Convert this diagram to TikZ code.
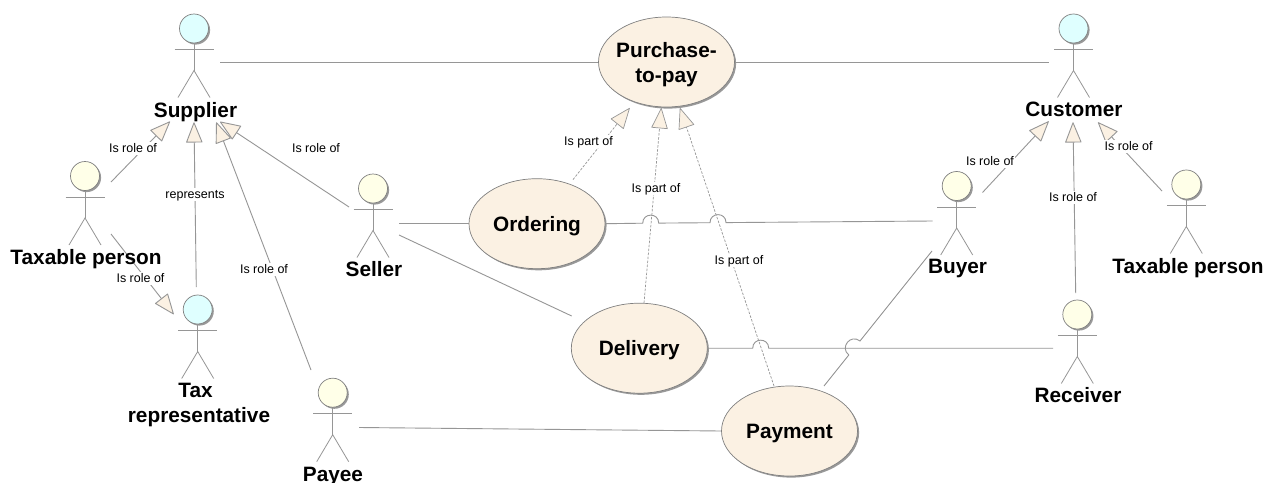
\documentclass[tikz,border=0pt]{standalone}
\usepackage{fontspec}
\setmainfont{Liberation Sans}
\usetikzlibrary{shapes.geometric,shadows,arrows.meta}
\definecolor{linegray}{HTML}{969696}
\definecolor{edgegray}{HTML}{808080}
\definecolor{actcyan}{HTML}{DFFFFF}
\definecolor{actyellow}{HTML}{FFFFE8}
\definecolor{usecase}{HTML}{FBF1E3}
\tikzset{
  softshadow/.style={drop shadow={shadow xshift=1.6pt,shadow yshift=-1.6pt,fill=black,opacity=.4}},
  actorhead/.style={circle,draw=edgegray,line width=.7pt,minimum size=29pt,inner sep=0pt,softshadow},
  limb/.style={draw=linegray,line width=.8pt},
  conn/.style={draw=linegray,line width=.9pt},
  gen/.style={conn,-{Triangle[open,length=21pt,width=16.5pt,fill=usecase,round]}},
  partof/.style={gen,line width=.7pt,dash pattern=on 2.5pt off 1.5pt},
  ucbase/.style={ellipse,draw=edgegray,line width=.7pt,fill=usecase,minimum width=136pt,minimum height=90pt,inner sep=0pt,softshadow,
     font=\fontsize{20.8}{25.6}\selectfont\bfseries},
  uc/.style={ucbase,text height=18pt,text depth=4pt},
  ucb/.style={ucbase,align=center,inner xsep=-16pt,inner ysep=-8pt},
  actorname/.style={font=\fontsize{20.8}{24.6}\selectfont\bfseries,anchor=base,inner sep=0pt},
  smalllabel/.style={font=\fontsize{12.5}{14}\selectfont,fill=white,text height=10pt,text depth=2pt,inner xsep=1pt,inner ysep=.5pt},
}
\newcommand{\actorfig}[4]{%
  \node[actorhead,fill=#4] (#1) at (#2,#3) {};
  \draw[limb] (#1.south) -- (#2,#3+42);
  \draw[limb] (#2-19.5,#3+21) -- (#2+19.5,#3+21);
  \draw[limb] (#2-16,#3+69) -- (#2,#3+42) -- (#2+16,#3+69);
}
\begin{document}
\begin{tikzpicture}[x=1pt,y=-1pt]
\useasboundingbox (0,0) rectangle (1266,482);
\fill[white] (0,0) rectangle (1266,482);

% free ends of the connectors
\coordinate (supR) at (220,62);
\coordinate (cusL) at (1049,62);
\coordinate (selR1) at (399,223.7);
\coordinate (selR2) at (399,235);
\coordinate (delL) at (571.7,316);
\coordinate (payR) at (359,427.5);
\coordinate (buyL1) at (932.5,221);
\coordinate (buyL2) at (932,251);
\coordinate (recL) at (1053,348.2);
\coordinate (tpOut) at (111,182);
\coordinate (tpOut2) at (111,234);
\coordinate (repTop) at (196.3,287);
\coordinate (payeeTop) at (311,370);
\coordinate (selTop) at (349,207);
\coordinate (buyTop) at (982.5,192.5);
\coordinate (recTop) at (1075.7,293);
\coordinate (tp2Top) at (1162,191);
\coordinate (ordTop) at (573,179.6);
\coordinate (delTop) at (644,303);
\coordinate (payTop) at (774,386);
\coordinate (payTop2) at (824,386);
% arrow tips
\coordinate (tipA) at (170,121.5);
\coordinate (tipB) at (194,122.3);
\coordinate (tipC) at (216.3,122.3);
\coordinate (tipD) at (220,121.7);
\coordinate (tipE) at (173.7,314.3);
\coordinate (tipF) at (1048.7,121.3);
\coordinate (tipG) at (1073,122.3);
\coordinate (tipH) at (1098,122.3);
\coordinate (tipI) at (629.7,108);
\coordinate (tipJ) at (661.3,108);
\coordinate (tipK) at (680,108);
% line jumps
\coordinate (j1a) at (642.7,223.2);
\coordinate (j1b) at (658.7,223.1);
\coordinate (j2a) at (710,222.7);
\coordinate (j2b) at (726,222.6);
\coordinate (j3a) at (752.7,348.2);
\coordinate (j3b) at (768.7,348.2);
\coordinate (j4a) at (860,341);
\coordinate (j4b) at (848.8,355);

% use cases
\node[ucb] (purchase) at (666.5,62) {\rule{0pt}{20.5pt}Purchase-\\to-pay};
\node[uc,text height=20pt] (ordering) at (537,223.7) {Ordering};
\node[uc] (delivery) at (639.3,348.2) {Delivery};
\node[uc] (payment) at (789.5,431) {Payment};

% actors
\actorfig{supplier}{194}{28.5}{actcyan}
\actorfig{taxable}{85}{176}{actyellow}
\actorfig{seller}{373}{188.5}{actyellow}
\actorfig{taxrep}{197.7}{309.5}{actcyan}
\actorfig{payee}{332.7}{392.7}{actyellow}
\actorfig{customer}{1073.5}{28.5}{actcyan}
\actorfig{buyer}{956.7}{186}{actyellow}
\actorfig{taxabletwo}{1186.3}{184.5}{actyellow}
\actorfig{receiver}{1077.3}{314.5}{actyellow}

% associations
\draw[conn] (supR) -- (purchase.west);
\draw[conn] (purchase.east) -- (cusL);
\draw[conn] (selR1) -- (ordering.west);
\draw[conn] (selR2) -- (delL);
\draw[conn] (payR) -- (payment.west);
\draw[conn] (ordering.east) -- (j1a) .. controls +(0,-10.7) and +(0,-10.7) .. (j1b) -- (j2a) .. controls +(0,-10.7) and +(0,-10.7) .. (j2b) -- (buyL1);
\draw[conn] (delivery.east) -- (j3a) .. controls +(0,-10.7) and +(0,-10.7) .. (j3b) -- (recL);
\draw[conn] (buyL2) -- (j4a) .. controls +(-9.4,-7.5) and +(-9.4,-7.5) .. (j4b) -- (payTop2);

% generalisations
\draw[gen] (tpOut) -- (tipA);
\draw[gen] (repTop) -- (tipB);
\draw[gen] (payeeTop) -- (tipC);
\draw[gen] (selTop) -- (tipD);
\draw[gen] (tpOut2) -- (tipE);
\draw[gen] (buyTop) -- (tipF);
\draw[gen] (recTop) -- (tipG);
\draw[gen] (tp2Top) -- (tipH);
\draw[partof] (ordTop) -- (tipI);
\draw[partof] (delTop) -- (tipJ);
\draw[partof] (payTop) -- (tipK);

% connector labels
\node[smalllabel] (l1) at (133,148) {Is role of};
\node[smalllabel] (l2) at (195,194.5) {represents};
\node[smalllabel] (l3) at (140.5,278) {Is role of};
\node[smalllabel] (l4) at (264,269) {Is role of};
\node[smalllabel] (l5) at (316,148) {Is role of};
\node[smalllabel] (l6) at (588.5,141) {Is part of};
\node[smalllabel] (l7) at (656,188) {Is part of};
\node[smalllabel] (l8) at (739,260.5) {Is part of};
\node[smalllabel] (l9) at (990,161) {Is role of};
\node[smalllabel] (l10) at (1073,197.5) {Is role of};
\node[smalllabel] (l11) at (1128.7,146.5) {Is role of};

% actor names
\node[actorname] (nsup) at (195.5,117) {Supplier};
\node[actorname] (ntax) at (86,264) {Taxable person};
\node[actorname] (nsel) at (374,276.7) {Seller};
\node[actorname] (nrep1) at (195.5,397.7) {Tax};
\node[actorname] (nrep2) at (199,422.3) {representative};
\node[actorname] (npay) at (333,481.5) {Payee};
\node[actorname] (ncus) at (1074,116.7) {Customer};
\node[actorname] (nbuy) at (957.5,273.3) {Buyer};
\node[actorname] (ntax2) at (1188,273) {Taxable person};
\node[actorname] (nrec) at (1078,402.7) {Receiver};
\end{tikzpicture}
\end{document}
